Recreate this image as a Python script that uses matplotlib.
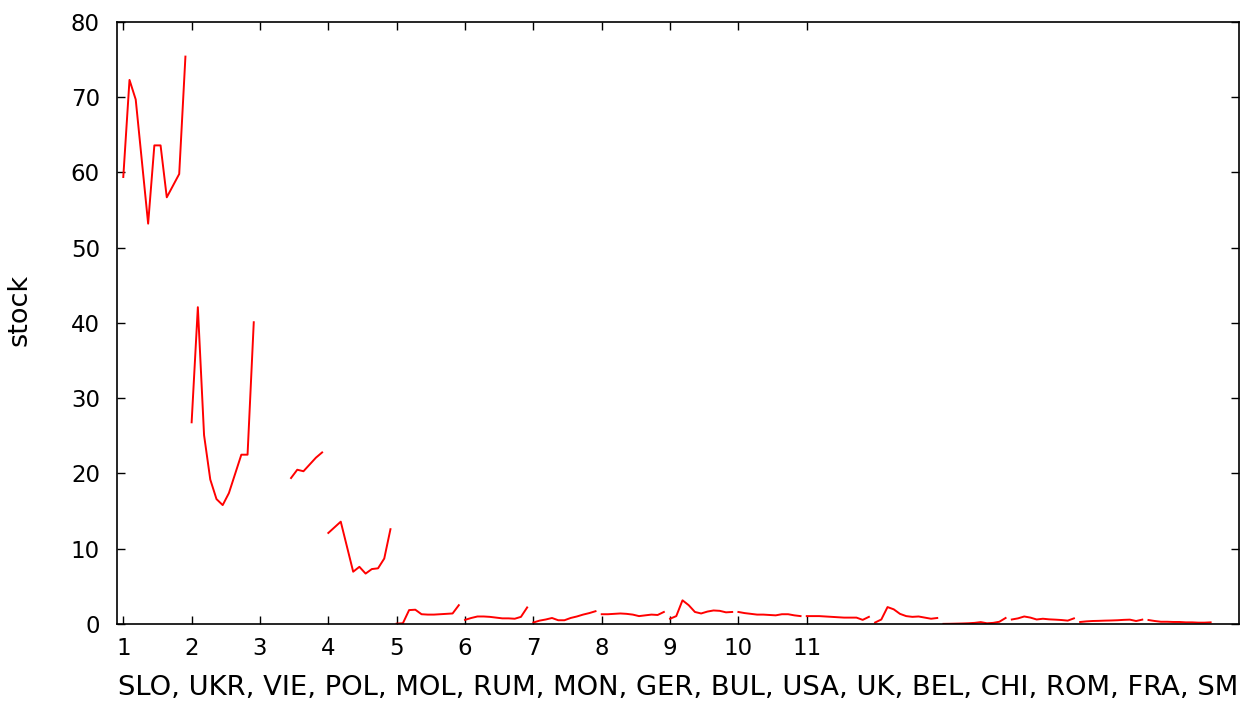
import numpy as np
import matplotlib
matplotlib.use("Agg")
import matplotlib.pyplot as plt

# countries in the order of the x axis
countries = ["SLO", "UKR", "VIE", "POL", "MOL", "RUM", "MON", "GER",
             "BUL", "USA", "UK", "BEL", "CHI", "ROM", "FRA", "SM"]

# year index (0..10) inside each country block, and the stock values
idx_full = list(range(11))
idx = {
    "SLO": [0, 1, 2, 4, 5, 6, 7, 9, 10],
    "UKR": [0, 1, 2, 3, 4, 5, 6, 8, 9, 10],
    "VIE": [5, 6, 7, 8, 9, 10],
    "POL": [0, 2, 4, 5, 6, 7, 8, 9, 10],
}
stock = {
    "SLO": [59.4, 72.3, 69.7, 53.2, 63.6, 63.6, 56.7, 59.8, 75.4],
    "UKR": [26.8, 42.1, 25.1, 19.2, 16.6, 15.8, 17.4, 22.5, 22.5, 40.1],
    "VIE": [19.4, 20.5, 20.3, 21.2, 22.1, 22.8],
    "POL": [12.1, 13.6, 6.95, 7.6, 6.7, 7.3, 7.4, 8.7, 12.6],
    "MOL": [0.05, 0.1, 1.85, 1.9, 1.3, 1.25, 1.25, 1.3, 1.35, 1.4, 2.5],
    "RUM": [0.55, 0.8, 1.0, 1.0, 0.95, 0.85, 0.75, 0.75, 0.7, 0.95, 2.2],
    "MON": [0.2, 0.45, 0.6, 0.8, 0.5, 0.5, 0.8, 1.0, 1.25, 1.45, 1.7],
    "GER": [1.3, 1.3, 1.35, 1.4, 1.35, 1.25, 1.05, 1.15, 1.25, 1.2, 1.6],
    "BUL": [0.7, 1.05, 3.15, 2.5, 1.6, 1.4, 1.65, 1.8, 1.75, 1.55, 1.6],
    "USA": [1.6, 1.45, 1.35, 1.25, 1.25, 1.2, 1.15, 1.3, 1.3, 1.15, 1.05],
    "UK":  [1.05, 1.05, 1.05, 1.0, 0.95, 0.9, 0.85, 0.85, 0.85, 0.55, 0.95],
    "BEL": [0.2, 0.6, 2.25, 1.95, 1.35, 1.05, 0.95, 1.0, 0.85, 0.7, 0.8],
    "CHI": [0.02, 0.03, 0.05, 0.07, 0.1, 0.15, 0.25, 0.1, 0.15, 0.3, 0.8],
    "ROM": [0.6, 0.75, 1.0, 0.85, 0.6, 0.7, 0.62, 0.58, 0.53, 0.45, 0.75],
    "FRA": [0.27, 0.35, 0.4, 0.42, 0.45, 0.47, 0.5, 0.55, 0.58, 0.4, 0.58],
    "SM":  [0.53, 0.4, 0.3, 0.3, 0.27, 0.27, 0.22, 0.22, 0.18, 0.18, 0.22],
}
xtick_vals = list(range(1, 12))

plt.rcParams["font.family"] = "DejaVu Sans"
fig = plt.figure(figsize=(12.53, 7.02), dpi=100)
ax = fig.add_axes([0.0931, 0.1111, 0.8955, 0.8576])

for i, c in enumerate(countries):
    k = np.array(idx.get(c, idx_full))
    x = (i + 1) + k / 11.0
    ax.plot(x, stock[c], color="red", lw=1.4)

ax.set_xlim(0.903, 17.32)
ax.set_ylim(0, 80)
ax.set_xticks(xtick_vals)
ax.set_yticks(range(0, 81, 10))
ax.tick_params(direction="in", length=5.5, width=1, top=True, right=True,
               labelsize=16.5, pad=9)
ax.tick_params(axis="y", pad=12)
for s in ax.spines.values():
    s.set_linewidth(1.2)

ax.set_xlabel(", ".join(countries), fontsize=19.7)
ax.xaxis.set_label_coords(0.5, -0.118)
ax.xaxis.label.set_verticalalignment("baseline")
ax.set_ylabel("stock", fontsize=19.5)
ax.yaxis.set_label_coords(-0.0862, 0.5216)
ax.yaxis.label.set_verticalalignment("center")

fig.savefig("out.png", dpi=100)
